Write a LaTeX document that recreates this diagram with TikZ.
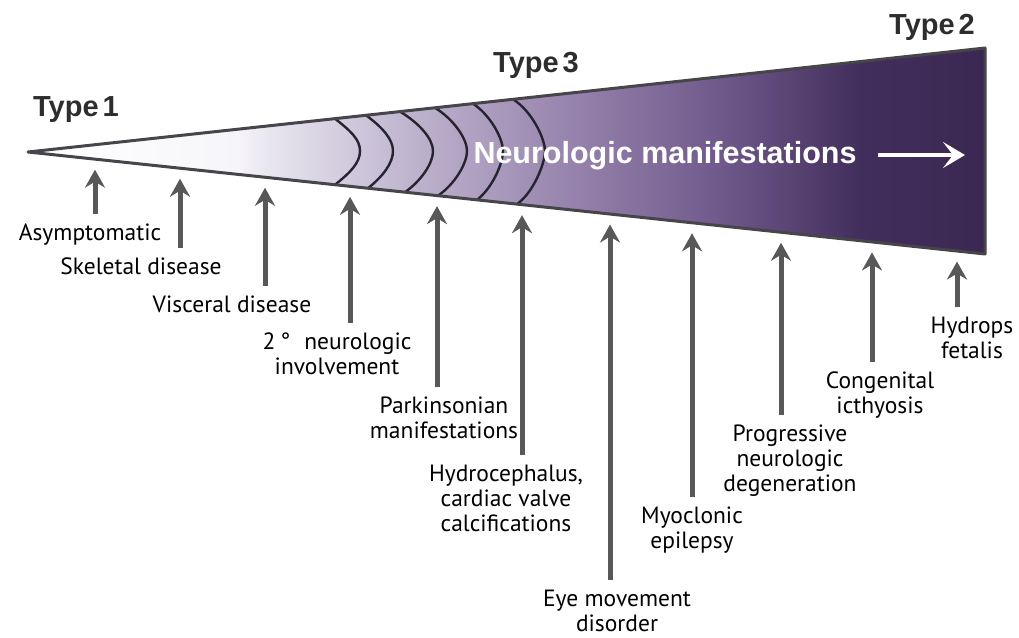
\documentclass[tikz,border=0pt]{standalone}
\usepackage{fontspec}
\setmainfont{PT Sans}
\newfontfamily\headfont{Liberation Sans}
\usetikzlibrary{arrows.meta}
\definecolor{risergray}{RGB}{88,88,88}
\definecolor{edgegray}{RGB}{70,70,74}
\definecolor{chevgray}{RGB}{38,36,48}
\definecolor{typegray}{RGB}{45,45,45}
\definecolor{lilaA}{RGB}{246,245,249}
\definecolor{lilaB}{RGB}{233,230,239}
\definecolor{lilaC}{RGB}{190,180,206}
\definecolor{lilaD}{RGB}{150,130,172}
\definecolor{lilaE}{RGB}{112,90,140}
\definecolor{lilaF}{RGB}{66,46,92}
\definecolor{lilaG}{RGB}{58,40,82}
\pgfdeclarehorizontalshading{wedgeshade}{100bp}{color(0bp)=(white); color(25bp)=(white);
  color(36bp)=(lilaA); color(37.5bp)=(lilaB); color(45bp)=(lilaC); color(53.5bp)=(lilaD);
  color(61bp)=(lilaE); color(68.5bp)=(lilaF); color(75bp)=(lilaG); color(100bp)=(lilaG)}
\tikzset{
  lbl/.style={anchor=north, inner sep=0pt, align=center, font=\fontsize{23.5}{25}\selectfont, text=black},
  up/.style={draw=risergray, line width=5pt, -{Stealth[length=18pt,width=20pt,inset=6pt]}},
  typelbl/.style={inner sep=0pt, font=\headfont\bfseries\fontsize{29}{32}\selectfont, text=typegray},
  chev/.style={draw=chevgray, line width=2.4pt},
  wedge/.style={draw=edgegray, line width=3pt, line join=round},
  flow/.style={draw=white, line width=4pt, -{Stealth[length=22pt,width=26pt,inset=10pt]}}
}

\begin{document}
\begin{tikzpicture}[x=1pt,y=-1pt]
  \useasboundingbox (0,0) rectangle (1019,637);

  \coordinate (tip) at (28,152);
  \coordinate (top) at (985,48);
  \coordinate (bot) at (985,254);
  \path[shading=wedgeshade] (tip) -- (top) -- (bot) -- cycle;

  % rings of type 3
  \foreach \tx/\bx/\ex in {335/360/335,366/393/368,400/433/405,435/467/438,473/503/477,513/545/517}
    \draw[chev] (\tx,{152-0.1087*(\tx-28)}) .. controls ({\tx+0.6*(\bx-\tx)},{152-0.1087*(\tx-28)+12}) and (\bx,139) .. (\bx,151)
      .. controls (\bx,163) and ({\ex+0.6*(\bx-\ex)},{152+0.1066*(\ex-28)-12}) .. (\ex,{152+0.1066*(\ex-28)});

  \draw[wedge] (tip) -- (top) -- (bot) -- cycle;

  \node[typelbl] (type1) at (76,110) {Type\hspace{4pt}1};
  \node[typelbl] (type3) at (536,65) {Type\hspace{4pt}3};
  \node[typelbl] (type2) at (932,27) {Type\hspace{4pt}2};

  \node[anchor=base, inner sep=0pt, text=white, font=\headfont\bfseries\fontsize{30.5}{32}\selectfont] (neuro) at (665,163) {Neurologic manifestations};
  \coordinate (fs) at (878,155);
  \coordinate (fe) at (965,155);
  \draw[flow] (fs) -- (fe);

  \node[lbl] (asym) at (90,224) {Asymptomatic};
  \node[lbl] (skel) at (141,258) {Skeletal disease};
  \node[lbl] (visc) at (232,296) {Visceral disease};
  \node[lbl] (sec) at (337,333) {2\hspace{5pt}°\hspace{14pt}neurologic\\involvement};
  \node[lbl] (park) at (444,397) {Parkinsonian\\manifestations};
  \node[lbl] (hydro) at (506,465) {Hydrocephalus,\\cardiac valve\\calcifications};
  \node[lbl] (eye) at (617,590) {Eye movement\\disorder};
  \node[lbl] (myo) at (692,507) {Myoclonic\\epilepsy};
  \node[lbl] (prog) at (790,425) {Progressive\\neurologic\\degeneration};
  \node[lbl] (cong) at (880,372) {Congenital\\icthyosis};
  \node[lbl] (fetal) at (972,317) {Hydrops\\fetalis};

  % arrows up to the wedge
  \foreach \n/\x in {asym/95,skel/180,visc/265,sec/350,park/437,hydro/522,eye/610,myo/692,prog/781,cong/872,fetal/957} {
    \coordinate (t-\n) at (\x,{152+0.1066*(\x-28)+10.5});
    \draw[up] ([yshift=10pt]\n.north -| t-\n) -- (t-\n);
  }
\end{tikzpicture}
\end{document}
